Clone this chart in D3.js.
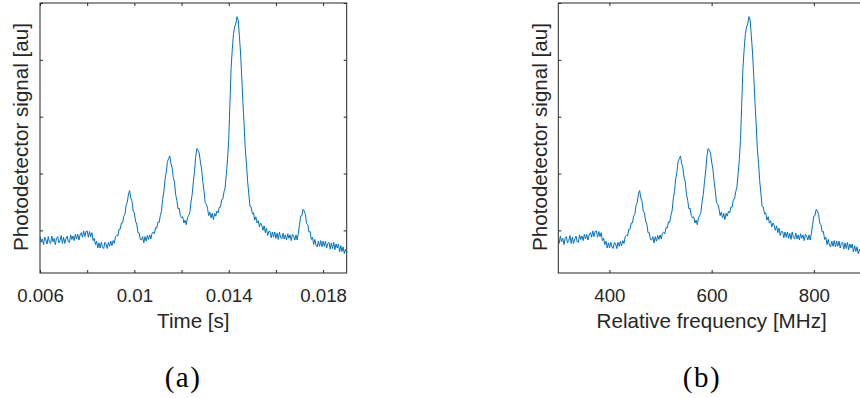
<!DOCTYPE html>
<html>
<head>
<meta charset="utf-8">
<script src="https://cdn.jsdelivr.net/npm/d3@7"></script>
<style>
  html, body { margin: 0; padding: 0; background: #fff; }
  svg { display: block; }
</style>
</head>
<body>
<script>
// scan sample times [s], one every 50 us
const time = [
  0.00600, 0.00605, 0.00610, 0.00615, 0.00620, 0.00625, 0.00630, 0.00635, 0.00640, 0.00645,
  0.00650, 0.00655, 0.00660, 0.00665, 0.00670, 0.00675, 0.00680, 0.00685, 0.00690, 0.00695,
  0.00700, 0.00705, 0.00710, 0.00715, 0.00720, 0.00725, 0.00730, 0.00735, 0.00740, 0.00745,
  0.00750, 0.00755, 0.00760, 0.00765, 0.00770, 0.00775, 0.00780, 0.00785, 0.00790, 0.00795,
  0.00800, 0.00805, 0.00810, 0.00815, 0.00820, 0.00825, 0.00830, 0.00835, 0.00840, 0.00845,
  0.00850, 0.00855, 0.00860, 0.00865, 0.00870, 0.00875, 0.00880, 0.00885, 0.00890, 0.00895,
  0.00900, 0.00905, 0.00910, 0.00915, 0.00920, 0.00925, 0.00930, 0.00935, 0.00940, 0.00945,
  0.00950, 0.00955, 0.00960, 0.00965, 0.00970, 0.00975, 0.00980, 0.00985, 0.00990, 0.00995,
  0.01000, 0.01005, 0.01010, 0.01015, 0.01020, 0.01025, 0.01030, 0.01035, 0.01040, 0.01045,
  0.01050, 0.01055, 0.01060, 0.01065, 0.01070, 0.01075, 0.01080, 0.01085, 0.01090, 0.01095,
  0.01100, 0.01105, 0.01110, 0.01115, 0.01120, 0.01125, 0.01130, 0.01135, 0.01140, 0.01145,
  0.01150, 0.01155, 0.01160, 0.01165, 0.01170, 0.01175, 0.01180, 0.01185, 0.01190, 0.01195,
  0.01200, 0.01205, 0.01210, 0.01215, 0.01220, 0.01225, 0.01230, 0.01235, 0.01240, 0.01245,
  0.01250, 0.01255, 0.01260, 0.01265, 0.01270, 0.01275, 0.01280, 0.01285, 0.01290, 0.01295,
  0.01300, 0.01305, 0.01310, 0.01315, 0.01320, 0.01325, 0.01330, 0.01335, 0.01340, 0.01345,
  0.01350, 0.01355, 0.01360, 0.01365, 0.01370, 0.01375, 0.01380, 0.01385, 0.01390, 0.01395,
  0.01400, 0.01405, 0.01410, 0.01415, 0.01420, 0.01425, 0.01430, 0.01435, 0.01440, 0.01445,
  0.01450, 0.01455, 0.01460, 0.01465, 0.01470, 0.01475, 0.01480, 0.01485, 0.01490, 0.01495,
  0.01500, 0.01505, 0.01510, 0.01515, 0.01520, 0.01525, 0.01530, 0.01535, 0.01540, 0.01545,
  0.01550, 0.01555, 0.01560, 0.01565, 0.01570, 0.01575, 0.01580, 0.01585, 0.01590, 0.01595,
  0.01600, 0.01605, 0.01610, 0.01615, 0.01620, 0.01625, 0.01630, 0.01635, 0.01640, 0.01645,
  0.01650, 0.01655, 0.01660, 0.01665, 0.01670, 0.01675, 0.01680, 0.01685, 0.01690, 0.01695,
  0.01700, 0.01705, 0.01710, 0.01715, 0.01720, 0.01725, 0.01730, 0.01735, 0.01740, 0.01745,
  0.01750, 0.01755, 0.01760, 0.01765, 0.01770, 0.01775, 0.01780, 0.01785, 0.01790, 0.01795,
  0.01800, 0.01805, 0.01810, 0.01815, 0.01820, 0.01825, 0.01830, 0.01835, 0.01840, 0.01845,
  0.01850, 0.01855, 0.01860, 0.01865, 0.01870, 0.01875, 0.01880, 0.01885, 0.01890, 0.01895,
  0.01900
];

// the same samples on the calibrated relative-frequency axis [MHz]
const freq = [
  280.50, 282.85, 285.20, 287.55, 289.90, 292.25, 294.60, 296.95, 299.30, 301.65,
  304.00, 306.35, 308.70, 311.05, 313.40, 315.75, 318.10, 320.45, 322.80, 325.15,
  327.50, 329.85, 332.20, 334.55, 336.90, 339.25, 341.60, 343.95, 346.30, 348.65,
  351.00, 353.35, 355.70, 358.05, 360.40, 362.75, 365.10, 367.45, 369.80, 372.15,
  374.50, 376.85, 379.20, 381.55, 383.90, 386.25, 388.60, 390.95, 393.30, 395.65,
  398.00, 400.35, 402.70, 405.05, 407.40, 409.75, 412.10, 414.45, 416.80, 419.15,
  421.50, 423.85, 426.20, 428.55, 430.90, 433.25, 435.60, 437.95, 440.30, 442.65,
  445.00, 447.35, 449.70, 452.05, 454.40, 456.75, 459.10, 461.45, 463.80, 466.15,
  468.50, 470.85, 473.20, 475.55, 477.90, 480.25, 482.60, 484.95, 487.30, 489.65,
  492.00, 494.35, 496.70, 499.05, 501.40, 503.75, 506.10, 508.45, 510.80, 513.15,
  515.50, 517.85, 520.20, 522.55, 524.90, 527.25, 529.60, 531.95, 534.30, 536.65,
  539.00, 541.35, 543.70, 546.05, 548.40, 550.75, 553.10, 555.45, 557.80, 560.15,
  562.50, 564.85, 567.20, 569.55, 571.90, 574.25, 576.60, 578.95, 581.30, 583.65,
  586.00, 588.35, 590.70, 593.05, 595.40, 597.75, 600.10, 602.45, 604.80, 607.15,
  609.50, 611.85, 614.20, 616.55, 618.90, 621.25, 623.60, 625.95, 628.30, 630.65,
  633.00, 635.35, 637.70, 640.05, 642.40, 644.75, 647.10, 649.45, 651.80, 654.15,
  656.50, 658.85, 661.20, 663.55, 665.90, 668.25, 670.60, 672.95, 675.30, 677.65,
  680.00, 682.35, 684.70, 687.05, 689.40, 691.75, 694.10, 696.45, 698.80, 701.15,
  703.50, 705.85, 708.20, 710.55, 712.90, 715.25, 717.60, 719.95, 722.30, 724.65,
  727.00, 729.35, 731.70, 734.05, 736.40, 738.75, 741.10, 743.45, 745.80, 748.15,
  750.50, 752.85, 755.20, 757.55, 759.90, 762.25, 764.60, 766.95, 769.30, 771.65,
  774.00, 776.35, 778.70, 781.05, 783.40, 785.75, 788.10, 790.45, 792.80, 795.15,
  797.50, 799.85, 802.20, 804.55, 806.90, 809.25, 811.60, 813.95, 816.30, 818.65,
  821.00, 823.35, 825.70, 828.05, 830.40, 832.75, 835.10, 837.45, 839.80, 842.15,
  844.50, 846.85, 849.20, 851.55, 853.90, 856.25, 858.60, 860.95, 863.30, 865.65,
  868.00, 870.35, 872.70, 875.05, 877.40, 879.75, 882.10, 884.45, 886.80, 889.15,
  891.50
];

// photodetector signal [au] (noise included)
const signal = [
  0.89, 0.79, 0.85, 0.75, 0.88, 0.83, 0.76, 0.89, 0.79, 0.77,
  0.90, 0.80, 0.86, 0.75, 0.86, 0.89, 0.78, 0.82, 0.91, 0.77,
  0.88, 0.77, 0.85, 0.90, 0.80, 0.79, 0.92, 0.84, 0.90, 0.82,
  0.93, 0.85, 0.93, 0.83, 0.92, 0.96, 0.88, 0.99, 0.89, 0.98,
  0.99, 0.88, 0.98, 0.89, 0.96, 0.82, 0.86, 0.75, 0.81, 0.69,
  0.78, 0.69, 0.79, 0.71, 0.68, 0.79, 0.76, 0.68, 0.79, 0.72,
  0.81, 0.73, 0.82, 0.77, 0.89, 0.91, 0.90, 1.02, 1.02, 1.13,
  1.13, 1.25, 1.28, 1.44, 1.49, 1.64, 1.70, 1.57, 1.51, 1.34,
  1.31, 1.16, 1.11, 0.96, 0.96, 0.84, 0.83, 0.89, 0.78, 0.89,
  0.81, 0.91, 0.84, 0.92, 0.85, 0.95, 0.97, 0.94, 1.05, 1.04,
  1.15, 1.14, 1.26, 1.34, 1.55, 1.68, 1.90, 2.02, 2.21, 2.26,
  2.31, 2.18, 2.10, 1.93, 1.85, 1.63, 1.53, 1.38, 1.39, 1.26,
  1.22, 1.24, 1.13, 1.18, 1.10, 1.22, 1.26, 1.31, 1.50, 1.63,
  1.86, 2.04, 2.30, 2.44, 2.41, 2.36, 2.20, 2.08, 1.86, 1.70,
  1.49, 1.46, 1.39, 1.26, 1.32, 1.22, 1.30, 1.19, 1.30, 1.25,
  1.34, 1.31, 1.41, 1.41, 1.54, 1.55, 1.68, 1.76, 2.00, 2.25,
  2.60, 3.22, 3.85, 4.18, 4.45, 4.58, 4.63, 4.76, 4.70, 4.43,
  4.12, 3.72, 3.26, 2.87, 2.43, 2.18, 1.86, 1.64, 1.42, 1.41,
  1.29, 1.31, 1.18, 1.24, 1.13, 1.17, 1.06, 1.13, 1.09, 1.00,
  1.08, 0.96, 1.04, 0.91, 0.98, 0.98, 0.87, 0.97, 0.88, 0.97,
  0.86, 0.95, 0.84, 0.97, 0.87, 0.85, 0.95, 0.85, 0.92, 0.83,
  0.94, 0.86, 0.92, 0.82, 0.93, 0.90, 0.83, 0.92, 0.83, 0.95,
  1.10, 1.25, 1.26, 1.37, 1.34, 1.28, 1.12, 1.10, 0.97, 0.98,
  0.84, 0.88, 0.75, 0.84, 0.74, 0.71, 0.81, 0.72, 0.82, 0.71,
  0.81, 0.72, 0.81, 0.69, 0.77, 0.79, 0.67, 0.78, 0.68, 0.79,
  0.66, 0.76, 0.69, 0.76, 0.62, 0.73, 0.63, 0.71, 0.59, 0.67,
  0.61
];

const timeTicks = [0.006, 0.008, 0.01, 0.012, 0.014, 0.016, 0.018];
const timeLabels = [0.006, 0.01, 0.014, 0.018];
const freqTicks = [400, 600, 800];
const signalTicks = [1, 2, 3, 4, 5];

const width = 860, height = 398;
const plotW = 306.7;
const plotTop = 3, plotBottom = 273;
const ink = "#262626";
const blue = "#0072BD";
const sans = "'Liberation Sans', Arial, Helvetica, sans-serif";

const svg = d3.select("body").append("svg")
    .attr("width", width)
    .attr("height", height)
    .attr("viewBox", [0, 0, width, height]);

const y = d3.scaleLinear([0.25, 5], [plotBottom, plotTop]);

function panel(opts) {
  const x = d3.scaleLinear(opts.domain, [opts.left, opts.left + plotW]);
  const g = svg.append("g");

  g.append("clipPath")
      .attr("id", opts.id)
    .append("rect")
      .attr("x", opts.left)
      .attr("y", plotTop)
      .attr("width", plotW)
      .attr("height", plotBottom - plotTop);

  const line = d3.line()
      .x((d, i) => x(opts.xs[i]))
      .y(d => y(d));

  g.append("path")
      .datum(signal)
      .attr("clip-path", `url(#${opts.id})`)
      .attr("fill", "none")
      .attr("stroke", blue)
      .attr("stroke-width", 1)
      .attr("stroke-linejoin", "round")
      .attr("d", line);

  const fmt = d => opts.labels.some(v => Math.abs(v - d) < 1e-9) ? opts.format(d) : "";

  g.append("g")
      .attr("transform", `translate(0,${plotBottom})`)
      .call(d3.axisBottom(x).tickValues(opts.ticks).tickFormat(fmt)
        .tickSizeInner(-3).tickSizeOuter(0).tickPadding(15.4))
      .call(a => a.select(".domain").remove())
      .call(a => a.selectAll("line").attr("stroke", ink))
      .call(a => a.selectAll("text")
        .attr("fill", ink)
        .style("font-family", sans)
        .style("font-size", "18.7px"));

  g.append("g")
      .attr("transform", `translate(0,${plotTop})`)
      .call(d3.axisTop(x).tickValues(opts.ticks).tickFormat("")
        .tickSizeInner(-3).tickSizeOuter(0))
      .call(a => a.select(".domain").remove())
      .call(a => a.selectAll("line").attr("stroke", ink));

  g.append("g")
      .attr("transform", `translate(${opts.left},0)`)
      .call(d3.axisLeft(y).tickValues(signalTicks).tickFormat("")
        .tickSizeInner(-3).tickSizeOuter(0))
      .call(a => a.select(".domain").remove())
      .call(a => a.selectAll("line").attr("stroke", ink));

  g.append("g")
      .attr("transform", `translate(${opts.left + plotW},0)`)
      .call(d3.axisRight(y).tickValues(signalTicks).tickFormat("")
        .tickSizeInner(-3).tickSizeOuter(0))
      .call(a => a.select(".domain").remove())
      .call(a => a.selectAll("line").attr("stroke", ink));

  g.append("rect")
      .attr("x", opts.left)
      .attr("y", plotTop)
      .attr("width", plotW)
      .attr("height", plotBottom - plotTop)
      .attr("fill", "none")
      .attr("stroke", ink)
      .attr("stroke-width", 1);

  // axis titles
  g.append("text")
      .attr("x", opts.left + plotW / 2)
      .attr("y", 328.3)
      .attr("text-anchor", "middle")
      .attr("fill", ink)
      .style("font-family", sans)
      .style("font-size", "20.6px")
      .text(opts.xTitle);

  g.append("text")
      .attr("transform", `translate(${opts.left - opts.yTitleGap},137) rotate(-90)`)
      .attr("text-anchor", "middle")
      .attr("fill", ink)
      .style("font-family", sans)
      .style("font-size", "20.6px")
      .text("Photodetector signal [au]");

  // subfigure caption
  g.append("text")
      .attr("x", opts.captionX)
      .attr("y", 387)
      .attr("text-anchor", "middle")
      .attr("fill", "#000")
      .style("font-family", "'Liberation Serif', 'Times New Roman', serif")
      .style("font-size", "29px")
      .style("letter-spacing", "1.5px")
      .text(opts.caption);
}

panel({
  id: "clip-a",
  left: 40,
  domain: [0.006, 0.019],
  xs: time,
  ticks: timeTicks,
  labels: timeLabels,
  format: d3.format("~g"),
  xTitle: "Time [s]",
  yTitleGap: 12,
  caption: "(a)",
  captionX: 183
});

panel({
  id: "clip-b",
  left: 558.3,
  domain: [300, 900],
  xs: freq,
  ticks: freqTicks,
  labels: freqTicks,
  format: d3.format("d"),
  xTitle: "Relative frequency [MHz]",
  yTitleGap: 11,
  caption: "(b)",
  captionX: 702
});
</script>
</body>
</html>
